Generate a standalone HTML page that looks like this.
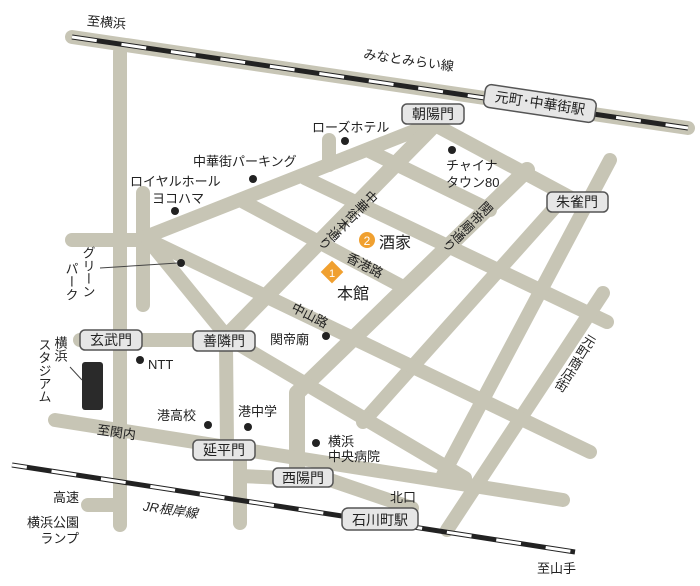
<!DOCTYPE html>
<html><head><meta charset="utf-8"><style>
html,body{margin:0;padding:0;background:#fff;width:700px;height:586px;overflow:hidden}
svg{display:block}
text{font-family:"Liberation Sans","Noto Sans CJK JP",sans-serif;fill:#222}
</style></head><body>
<svg width="700" height="586" viewBox="0 0 700 586" xmlns="http://www.w3.org/2000/svg">
<g stroke="#c7c5b5" stroke-width="14" stroke-linecap="round" stroke-linejoin="round" fill="none">
<line x1="120" y1="52" x2="120" y2="525"/>
<line x1="143" y1="193" x2="143" y2="305"/>
<line x1="72" y1="240" x2="150" y2="240"/>
<line x1="143" y1="238" x2="437" y2="122"/>
<line x1="329" y1="140" x2="329" y2="165"/>
<line x1="435" y1="125" x2="575" y2="200"/>
<line x1="437" y1="122" x2="228" y2="335" stroke-width="16"/>
<line x1="367" y1="150" x2="490" y2="210"/>
<line x1="305" y1="178" x2="607" y2="322"/>
<line x1="240" y1="200" x2="405" y2="288"/>
<polyline points="527,170 297,393 297,475" stroke-width="16"/>
<line x1="557" y1="205" x2="363" y2="422"/>
<line x1="610" y1="160" x2="443" y2="475"/>
<line x1="603" y1="293" x2="447" y2="530"/>
<line x1="155" y1="243" x2="590" y2="452"/>
<polyline points="148,240 228,338 465,478"/>
<line x1="80" y1="340" x2="230" y2="340"/>
<line x1="226" y1="345" x2="227" y2="445"/>
<line x1="240" y1="450" x2="240" y2="523"/>
<line x1="55" y1="420" x2="563" y2="500"/>
<polyline points="240,476 330,480 412,508"/>
<line x1="88" y1="505" x2="120" y2="505"/>
<line x1="72" y1="37" x2="688" y2="128"/>
</g>
<line x1="72" y1="37" x2="688" y2="128" stroke="#222" stroke-width="5"/>
<line x1="72" y1="37" x2="688" y2="128" stroke="#fff" stroke-width="3" stroke-dasharray="25 25"/>
<line x1="12" y1="465" x2="575" y2="552" stroke="#222" stroke-width="5"/>
<line x1="12" y1="465" x2="575" y2="552" stroke="#fff" stroke-width="3" stroke-dasharray="25 25" stroke-dashoffset="10"/>

<g stroke="#555" stroke-width="1.5" fill="#e6e6e6">
<rect x="484" y="92" width="112" height="23" rx="6" transform="rotate(8.5 540 103)"/>
<rect x="402" y="104" width="62" height="20" rx="5"/>
<rect x="547" y="192" width="61" height="20" rx="5"/>
<rect x="80" y="330" width="62" height="20" rx="5"/>
<rect x="193" y="331" width="62" height="20" rx="5"/>
<rect x="193" y="440" width="62" height="20" rx="5"/>
<rect x="273" y="468" width="60" height="19" rx="5"/>
<rect x="342" y="508" width="76" height="22" rx="6"/>
</g>
<g font-size="14" text-anchor="middle">
<text x="540" y="108" transform="rotate(8.5 540 103)">元町･中華街駅</text>
<text x="433" y="119">朝陽門</text>
<text x="577" y="207">朱雀門</text>
<text x="111" y="345">玄武門</text>
<text x="224" y="346">善隣門</text>
<text x="224" y="455">延平門</text>
<text x="303" y="483">西陽門</text>
<text x="380" y="525">石川町駅</text>
</g>

<g fill="#222">
<circle cx="345" cy="141" r="4"/>
<circle cx="253" cy="179" r="4"/>
<circle cx="175" cy="211" r="4"/>
<circle cx="181" cy="263" r="4"/>
<circle cx="452" cy="150" r="4"/>
<circle cx="140" cy="360" r="4"/>
<circle cx="326" cy="336" r="4"/>
<circle cx="208" cy="425" r="4"/>
<circle cx="248" cy="427" r="4"/>
<circle cx="316" cy="443" r="4"/>
<rect x="82" y="362" width="21" height="48" rx="3" fill="#2a2a2a"/>
</g>
<line x1="100" y1="268" x2="178" y2="263" stroke="#444" stroke-width="1"/>
<line x1="70" y1="367" x2="82" y2="380" stroke="#444" stroke-width="1"/>

<g font-size="13">
<text x="87" y="27" transform="rotate(5 108 22)">至横浜</text>
<text x="363" y="65" transform="rotate(8 410 62)">みなとみらい線</text>
<text x="312" y="132">ローズホテル</text>
<text x="193" y="166">中華街パーキング</text>
<text x="130" y="186">ロイヤルホール</text>
<text x="152" y="203">ヨコハマ</text>
<text x="446" y="170">チャイナ</text>
<text x="446" y="187">タウン80</text>
<text x="148" y="369">NTT</text>
<text x="270" y="344">関帝廟</text>
<text x="157" y="420">港高校</text>
<text x="238" y="416">港中学</text>
<text x="328" y="446">横浜</text>
<text x="328" y="461">中央病院</text>
<text x="97" y="437" transform="rotate(8 118 432)">至関内</text>
<text x="143" y="515" font-style="italic" transform="rotate(8 175 510)">JR根岸線</text>
<text x="79" y="502" text-anchor="end">高速</text>
<text x="79" y="527" text-anchor="end">横浜公園</text>
<text x="79" y="543" text-anchor="end">ランプ</text>
<text x="390" y="502">北口</text>
<text x="537" y="573">至山手</text>
<text x="365" y="270" text-anchor="middle" transform="rotate(27 365 265)">香港路</text>
<text x="310" y="320" text-anchor="middle" transform="rotate(27 310 315)">中山路</text>
</g>
<g font-size="13" style="writing-mode:vertical-rl">
<text x="88" y="246">グリーン</text>
<text x="71" y="262">パーク</text>
<text x="60" y="336">横浜</text>
<text x="44" y="338">スタジアム</text>
<text x="375" y="192" transform="rotate(45 375 192)">中華街本通り</text>
<text x="490" y="203" transform="rotate(45 490 203)">関帝廟通り</text>
<text x="592" y="335" transform="rotate(32 592 335)">元町商店街</text>
</g>

<circle cx="367" cy="240" r="8" fill="#f0a030"/>
<text x="367" y="245" font-size="12" text-anchor="middle" style="fill:#fff">2</text>
<text x="379" y="248" font-size="16">酒家</text>
<rect x="324" y="264" width="16" height="16" fill="#f0a030" transform="rotate(45 332 272)"/>
<text x="332" y="277" font-size="11" text-anchor="middle" style="fill:#fff">1</text>
<text x="337" y="299" font-size="16">本館</text>
</svg>
</body></html>
